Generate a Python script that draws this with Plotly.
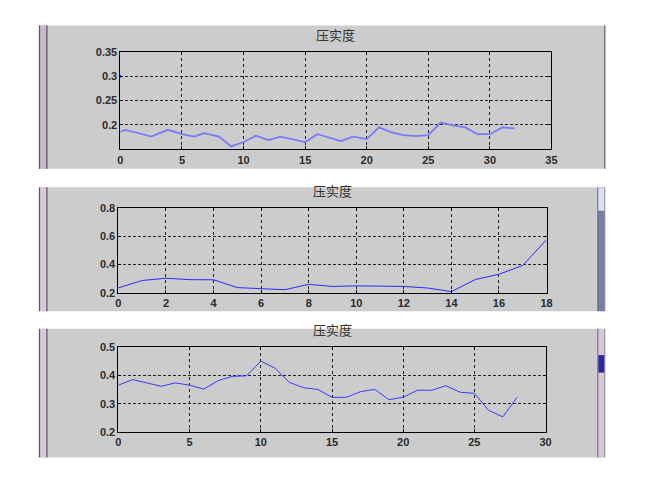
import plotly.graph_objects as go

W, H = 667, 481

# ---- data ----
title_text = "压实度"

x1 = [0, 0.4, 1.5, 2.5, 3.85, 5, 6, 6.8, 8, 9, 10, 11, 12, 13, 15, 16, 17.9, 18.9, 20,
      21, 22, 23, 24, 25, 26, 27, 28, 29, 30, 31, 32]
y1 = [0.186, 0.19, 0.183, 0.176, 0.19, 0.181, 0.176, 0.183, 0.176, 0.156, 0.165, 0.178,
      0.169, 0.176, 0.165, 0.181, 0.167, 0.176, 0.171, 0.195, 0.185, 0.179, 0.177, 0.179,
      0.205, 0.199, 0.195, 0.181, 0.181, 0.195, 0.193]
dot1_x = [0]
dot1_y = [0.3]

x2 = list(range(19))
y2 = [0.234, 0.286, 0.302, 0.292, 0.291, 0.236, 0.228, 0.221, 0.259, 0.244, 0.248,
      0.244, 0.244, 0.233, 0.207, 0.293, 0.33, 0.393, 0.575]

x3 = list(range(29))
y3 = [0.366, 0.386, 0.374, 0.362, 0.374, 0.366, 0.352, 0.382, 0.397, 0.399, 0.451,
      0.426, 0.376, 0.357, 0.351, 0.323, 0.323, 0.343, 0.351, 0.315, 0.323, 0.348,
      0.348, 0.364, 0.341, 0.337, 0.277, 0.254, 0.323]

x1_ticks = [0, 5, 10, 15, 20, 25, 30, 35]
y1_ticks = [0.2, 0.25, 0.3, 0.35]
x2_ticks = [0, 2, 4, 6, 8, 10, 12, 14, 16, 18]
y2_ticks = [0.2, 0.4, 0.6, 0.8]
x3_ticks = [0, 5, 10, 15, 20, 25, 30]
y3_ticks = [0.2, 0.3, 0.4, 0.5]


def px(x):
    return x / W


def py(y):
    return 1 - y / H


fig = go.Figure()
fig.add_trace(go.Scatter(x=x1, y=y1, mode="lines", line=dict(color="#7a7af8", width=1.8),
                         xaxis="x", yaxis="y", showlegend=False))
fig.add_trace(go.Scatter(x=dot1_x, y=dot1_y, mode="markers", marker=dict(color="#3030ff", size=3),
                         xaxis="x", yaxis="y", showlegend=False, cliponaxis=False))
fig.add_trace(go.Scatter(x=x2, y=y2, mode="lines", line=dict(color="#2a2aff", width=1),
                         xaxis="x2", yaxis="y2", showlegend=False))
fig.add_trace(go.Scatter(x=x3, y=y3, mode="lines", line=dict(color="#3a3aff", width=1),
                         xaxis="x3", yaxis="y3", showlegend=False))

tickfont = dict(family="Liberation Sans, Arial", size=11, color="#2b2b2b", weight="bold")


def xax(domain, rng, ticks, anchor):
    return dict(domain=domain, range=rng, tickvals=ticks, ticktext=[f"{t:g}" for t in ticks],
                showgrid=True, gridcolor="#222", griddash="dot", gridwidth=1,
                showline=True, linecolor="black", linewidth=1, mirror="ticks",
                ticks="inside", ticklen=3, tickcolor="black", tickfont=tickfont,
                zeroline=False, anchor=anchor, fixedrange=True)


def yax(domain, rng, ticks, anchor):
    return dict(domain=domain, range=rng, tickvals=ticks, ticktext=[f"{t:g}" for t in ticks],
                showgrid=True, gridcolor="#222", griddash="3px,2px", gridwidth=1,
                showline=True, linecolor="black", linewidth=1, mirror="ticks",
                ticks="inside", ticklen=3, tickcolor="black", tickfont=tickfont,
                zeroline=False, anchor=anchor, fixedrange=True)


panels = [
    # gray box (x0, y0, x1, y1), plot area (l, t, r, b)
    dict(box=(37, 20, 610, 167), area=(119, 47, 556, 147)),
    dict(box=(37, 186, 610, 313), area=(117, 207, 551, 294)),
    dict(box=(37, 331, 610, 463), area=(117, 350, 550, 437)),
]

layout_axes = {}
ranges = [([0, 35], [0.15, 0.35], x1_ticks, y1_ticks),
          ([0, 18], [0.2, 0.8], x2_ticks, y2_ticks),
          ([0, 30], [0.2, 0.5], x3_ticks, y3_ticks)]
for i, (p, (xr, yr, xt, yt)) in enumerate(zip(panels, ranges)):
    l, t, r, b = p["area"]
    sx = "" if i == 0 else str(i + 1)
    layout_axes["xaxis" + sx] = xax([px(l), px(r)], xr, xt, "y" + sx)
    layout_axes["yaxis" + sx] = yax([py(b), py(t)], yr, yt, "x" + sx)

shapes = []
annotations = []
for i, p in enumerate(panels):
    x0, y0, x1_, y1_ = p["box"]
    shapes.append(dict(type="rect", xref="paper", yref="paper", x0=px(x0), x1=px(x1_),
                       y0=py(y1_), y1=py(y0), fillcolor="#cccccc", line=dict(width=0),
                       layer="below"))
    # left window strip
    shapes.append(dict(type="rect", xref="paper", yref="paper", x0=px(37), x1=px(45),
                       y0=py(y1_), y1=py(y0), fillcolor="#d9c9d9" if i else "#c9b9c9",
                       line=dict(width=0), layer="below"))
    for lx in (37, 44.5):
        shapes.append(dict(type="line", xref="paper", yref="paper", x0=px(lx), x1=px(lx),
                           y0=py(y1_), y1=py(y0), line=dict(color="#555", width=1.2),
                           layer="below"))
    if i == 0:
        shapes.append(dict(type="line", xref="paper", yref="paper", x0=px(610), x1=px(610),
                           y0=py(y1_), y1=py(y0), line=dict(color="#777", width=1.5),
                           layer="below"))
    else:
        shapes.append(dict(type="rect", xref="paper", yref="paper", x0=px(603), x1=px(610),
                           y0=py(y1_), y1=py(y0),
                           fillcolor="#7880a8" if i == 1 else "#d8c8dc",
                           line=dict(width=0), layer="below"))
        shapes.append(dict(type="line", xref="paper", yref="paper", x0=px(603), x1=px(603),
                           y0=py(y1_), y1=py(y0), line=dict(color="#666", width=1),
                           layer="below"))
        shapes.append(dict(type="line", xref="paper", yref="paper", x0=px(610), x1=px(610),
                           y0=py(y1_), y1=py(y0), line=dict(color="#888", width=1),
                           layer="below"))
        if i == 1:
            shapes.append(dict(type="rect", xref="paper", yref="paper", x0=px(603.5), x1=px(609.5),
                               y0=py(210), y1=py(y0), fillcolor="#dde0ee",
                               line=dict(width=0), layer="below"))
        else:
            shapes.append(dict(type="rect", xref="paper", yref="paper", x0=px(603.5), x1=px(609.5),
                               y0=py(376), y1=py(358), fillcolor="#2a2aa0",
                               line=dict(width=0), layer="below"))
    l, t, r, b = p["area"]
    annotations.append(dict(text=title_text, xref="paper", yref="paper",
                            x=px((l + r) / 2), y=py(t - 6), xanchor="center", yanchor="bottom",
                            showarrow=False,
                            font=dict(family="Noto Sans CJK SC", size=13, color="#333")))

fig.update_layout(
    width=W, height=H, margin=dict(l=0, r=0, t=0, b=0),
    paper_bgcolor="white", plot_bgcolor="white",
    shapes=shapes, annotations=annotations, showlegend=False,
    **layout_axes,
)

fig.write_html("out.html", config={"displayModeBar": False},
               post_script="document.body.style.margin='0';document.body.style.overflow='hidden';")
